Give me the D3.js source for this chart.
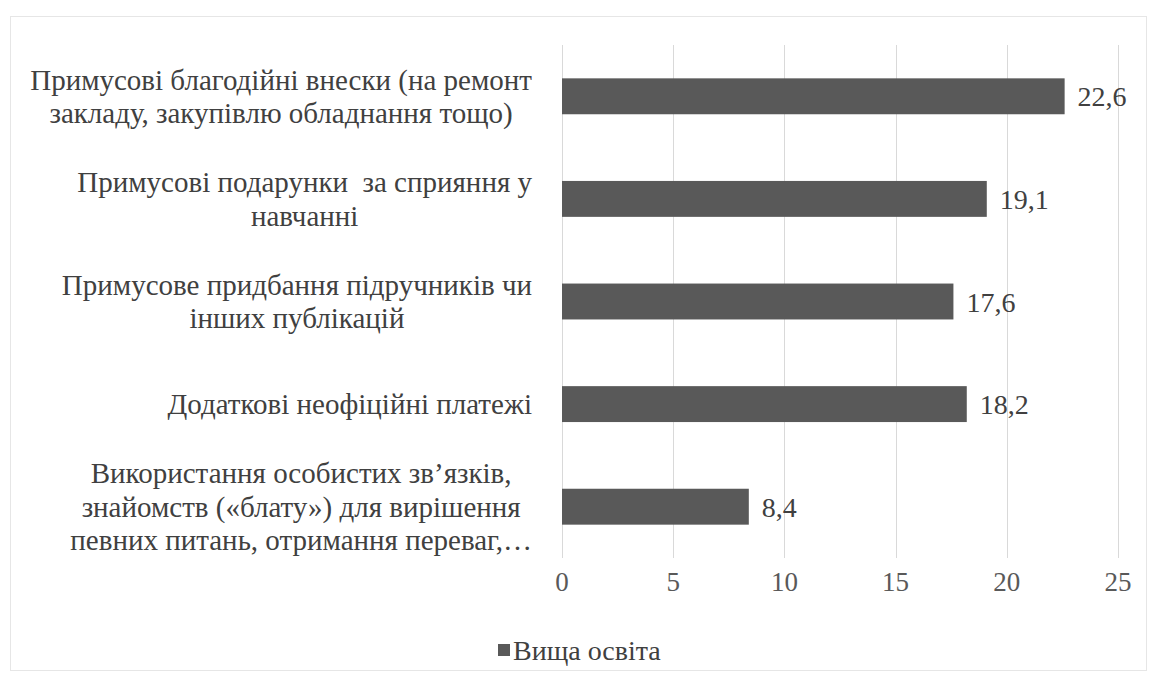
<!DOCTYPE html>
<html>
<head>
<meta charset="utf-8">
<script src="https://cdn.jsdelivr.net/npm/d3@7"></script>
</head>
<body style="margin:0;background:#ffffff;overflow:hidden">
<div id="wrap" style="position:relative;width:1152px;height:680px">
<svg id="chart" width="1151" height="679" style="display:block"></svg>
</div>
<script>
const categories = [
  "Примусові благодійні внески (на ремонт\nзакладу, закупівлю обладнання тощо)",
  "Примусові подарунки  за сприяння у\nнавчанні",
  "Примусове придбання підручників чи\nінших публікацій",
  "Додаткові неофіційні платежі",
  "Використання особистих зв’язків,\nзнайомств («блату») для вирішення\nпевних питань, отримання переваг,…"
];
const values = [22.6, 19.1, 17.6, 18.2, 8.4];
const valueLabels = ["22,6", "19,1", "17,6", "18,2", "8,4"];
const xTicks = [0, 5, 10, 15, 20, 25];
const seriesName = "Вища освіта";

const FONT = "Liberation Serif";
const svg = d3.select("#chart");
const W = 1152, H = 680;
const margin = { left: 562, right: 34, top: 45, bottom: 122 };

svg.append("rect")
  .attr("x", 10.5).attr("y", 16.5)
  .attr("width", 1136).attr("height", 654)
  .attr("fill", "#ffffff").attr("stroke", "#e6e6e6").attr("stroke-width", 1);

const x = d3.scaleLinear().domain([0, 25]).range([margin.left, W - margin.right]);
const y = d3.scaleBand().domain(categories).range([margin.top, H - margin.bottom])
  .paddingInner(0.65).paddingOuter(0.325);

svg.append("g").selectAll("line").data(xTicks).join("line")
  .attr("x1", d => Math.round(x(d)) + 0.5).attr("x2", d => Math.round(x(d)) + 0.5)
  .attr("y1", margin.top).attr("y2", H - margin.bottom)
  .attr("stroke", "#d9d9d9").attr("stroke-width", 1);

svg.append("g").selectAll("text").data(xTicks).join("text")
  .attr("font-family", FONT).attr("font-size", 27).attr("fill", "#595959")
  .attr("text-anchor", "middle")
  .attr("x", d => x(d))
  .attr("y", H - margin.bottom + 33)
  .text(d => d3.format("d")(d));

svg.append("g").selectAll("rect").data(values).join("rect")
  .attr("x", x(0))
  .attr("y", (d, i) => y(categories[i]))
  .attr("width", d => x(d) - x(0))
  .attr("height", y.bandwidth())
  .attr("fill", "#595959");

svg.append("g").selectAll("text").data(values).join("text")
  .attr("font-family", FONT)
  .attr("x", d => x(d) + 13)
  .attr("y", (d, i) => y(categories[i]) + y.bandwidth() / 2 + 10)
  .attr("font-size", 28).attr("fill", "#404040")
  .text((d, i) => valueLabels[i]);

const lineH = 33.5;
const labelRight = 532;
const gl = svg.append("g");
categories.forEach((c, i) => {
  const lines = c.split("\n");
  const cy = y(c) + y.bandwidth() / 2;
  const t = gl.append("text").attr("font-family", FONT).attr("xml:space", "preserve")
    .attr("font-size", 29).attr("fill", "#404040").attr("text-anchor", "middle");
  const spans = lines.map((ln, j) => t.append("tspan")
      .attr("y", cy + (j - (lines.length - 1) / 2) * lineH + 10)
      .text(ln));
  let maxW = 0;
  spans.forEach(s => { maxW = Math.max(maxW, s.node().getComputedTextLength()); });
  spans.forEach(s => s.attr("x", labelRight - maxW / 2));
});

const lg = svg.append("g");
lg.append("text").attr("font-family", FONT).attr("x", 513).attr("y", 660)
  .attr("font-size", 28).attr("fill", "#404040").text(seriesName);
lg.append("rect").attr("x", 498).attr("y", 644).attr("width", 12).attr("height", 12).attr("fill", "#595959");
</script>
</body>
</html>
